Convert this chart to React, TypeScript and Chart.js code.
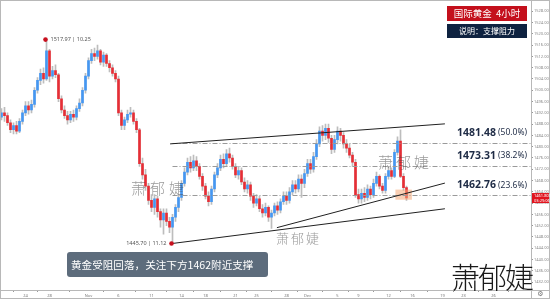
import React, { useEffect, useRef } from "react";
import { Chart, registerables } from "chart.js";

Chart.register(...registerables);

// ---------- DATA ----------
const SLOTS = 177; // candle slots on the time axis (incl. empty future area)

const opens = [
  1490.5, 1492, 1491, 1488.5, 1486, 1487.5, 1485.5, 1489, 1492, 1494.5,
  1493, 1495, 1500, 1503.5, 1506, 1504, 1514, 1505, 1507, 1505.5,
  1497, 1493, 1491, 1489.5, 1491.5, 1490.5, 1493.5, 1495.5, 1500, 1505,
  1510.5, 1513, 1512, 1514, 1510, 1512.5, 1509.5, 1508, 1506, 1504,
  1492, 1487.5, 1489.5, 1491.5, 1492, 1489, 1486, 1474, 1470, 1466,
  1461, 1458.5, 1461.5, 1457, 1454, 1456.5, 1453.5, 1451.5, 1455, 1458.5,
  1462, 1467, 1471, 1474.5, 1472.5, 1475, 1473, 1469.5, 1466, 1462.5,
  1460.5, 1465, 1470, 1472.5, 1475.5, 1474, 1477.5, 1476, 1473, 1470,
  1471.5, 1467.5, 1465, 1466.5, 1462.5, 1460, 1461.5, 1458, 1456.5, 1458.5,
  1455, 1456.5, 1459, 1457.5, 1460.5, 1462.5, 1461, 1464, 1466.5, 1465,
  1468.5, 1467, 1470.5, 1474, 1472, 1476.5, 1481, 1485.5, 1484, 1486.5,
  1483, 1479, 1482.5, 1485.5, 1484, 1481, 1479.5, 1477, 1474.5, 1463,
  1461.5, 1463.5, 1462, 1465, 1463, 1467, 1469.5, 1466, 1464.5, 1469.5,
  1471.5, 1469.5, 1478, 1482, 1469.5, 1465.5,
];
const closes = [
  1492, 1491, 1488.5, 1486, 1487.5, 1485.5, 1489, 1492, 1494.5, 1493,
  1495, 1500, 1503.5, 1506, 1504, 1514, 1505, 1507, 1505.5, 1497,
  1493, 1491, 1489.5, 1491.5, 1490.5, 1493.5, 1495.5, 1500, 1505, 1510.5,
  1513, 1512, 1514, 1510, 1512.5, 1509.5, 1508, 1506, 1504, 1492,
  1487.5, 1489.5, 1491.5, 1492, 1489, 1486, 1474, 1470, 1466, 1461,
  1458.5, 1461.5, 1457, 1454, 1456.5, 1453.5, 1451.5, 1455, 1458.5, 1462,
  1467, 1471, 1474.5, 1472.5, 1475, 1473, 1469.5, 1466, 1462.5, 1460.5,
  1465, 1470, 1472.5, 1475.5, 1474, 1477.5, 1476, 1473, 1470, 1471.5,
  1467.5, 1465, 1466.5, 1462.5, 1460, 1461.5, 1458, 1456.5, 1458.5, 1455,
  1456.5, 1459, 1457.5, 1460.5, 1462.5, 1461, 1464, 1466.5, 1465, 1468.5,
  1467, 1470.5, 1474, 1472, 1476.5, 1481, 1485.5, 1484, 1486.5, 1483,
  1479, 1482.5, 1485.5, 1484, 1481, 1479.5, 1477, 1474.5, 1463, 1461.5,
  1463.5, 1462, 1465, 1463, 1467, 1469.5, 1466, 1464.5, 1469.5, 1471.5,
  1469.5, 1478, 1482, 1469.5, 1465.5, 1461.8,
];
const highs = [
  1493.5, 1494, 1492, 1489.5, 1488.5, 1489, 1490, 1493, 1496, 1496,
  1496.5, 1501, 1504.5, 1507.5, 1508, 1517.97, 1514.5, 1508.5, 1509, 1506,
  1498, 1494.5, 1492.5, 1492.5, 1493, 1494.5, 1497, 1501, 1506, 1511.5,
  1514.5, 1515, 1516, 1514.5, 1513.5, 1513, 1510.5, 1509, 1507, 1505,
  1493, 1490.5, 1493, 1494, 1493, 1490, 1486.5, 1476, 1472, 1467,
  1463, 1463, 1462.5, 1458, 1458, 1458, 1455, 1456, 1459.5, 1463,
  1468, 1472.5, 1476, 1476.5, 1477, 1476.5, 1474, 1470.5, 1467, 1464,
  1466, 1471, 1474, 1477, 1477.5, 1479, 1479.5, 1477, 1474, 1473,
  1472.5, 1469, 1468, 1467.5, 1463.5, 1463, 1462.5, 1459.5, 1460, 1459,
  1457.5, 1460, 1460.5, 1461.5, 1464, 1464, 1465.5, 1468, 1468, 1470,
  1470, 1472, 1475.5, 1475.5, 1478, 1482.5, 1487, 1487.5, 1488, 1488,
  1484, 1484, 1487, 1486.5, 1485, 1482.5, 1481, 1478, 1475.5, 1465,
  1465, 1465.5, 1466.5, 1466, 1468.5, 1471, 1470, 1467, 1470.5, 1473,
  1472.5, 1479, 1483.5, 1486, 1470.5, 1466,
];
const lows = [
  1489.5, 1489, 1487.5, 1485, 1484.5, 1484.5, 1485, 1488, 1491, 1491.5,
  1492, 1494, 1499, 1502, 1502.5, 1503.5, 1503, 1504, 1504.5, 1496,
  1492, 1490, 1488, 1488.5, 1489, 1489.5, 1492.5, 1494.5, 1499, 1504,
  1509.5, 1510.5, 1511, 1509, 1508.5, 1508.5, 1506.5, 1505, 1503, 1491,
  1486, 1486, 1488.5, 1490.5, 1488, 1485, 1473, 1468.5, 1464.5, 1459.5,
  1457, 1456, 1455, 1451.5, 1449, 1452, 1449.5, 1445.7, 1453.5, 1457,
  1461, 1466, 1470, 1471, 1471.5, 1471.5, 1468.5, 1464.5, 1461.5, 1459,
  1459.5, 1464, 1469, 1471.5, 1472.5, 1473, 1474.5, 1472, 1469, 1468.5,
  1466.5, 1464, 1463.5, 1461, 1458.5, 1459, 1457, 1455, 1455.5, 1453.5,
  1451, 1455.5, 1456, 1456.5, 1459.5, 1459.5, 1460, 1463, 1463.5, 1464,
  1462, 1465.5, 1469.5, 1470.5, 1471, 1475.5, 1480, 1482, 1482.5, 1481.5,
  1477.5, 1478, 1481, 1482, 1479.5, 1478, 1476, 1473, 1462, 1460,
  1460, 1460.5, 1461, 1461.5, 1462, 1466, 1465, 1463.5, 1463.5, 1468.5,
  1468.5, 1469, 1477, 1469, 1464.5, 1461,
];

const xTickIndex = [8, 16, 29, 39, 50, 60, 68, 78, 85, 95, 102, 112, 119, 129, 137, 147, 154, 164];
const xTickLabels = ["24", "28", "Nov", "6", "11", "14", "18", "21", "25", "28", "Dec", "5", "9", "12", "16", "19", "23", "26"];
const yTicks = [1432, 1436, 1440, 1444, 1448, 1452, 1456, 1460, 1464, 1468, 1472, 1476, 1480, 1484, 1488, 1492, 1496, 1500, 1504, 1508, 1512, 1516, 1520, 1524, 1528];

const fibLevels = [1481.48, 1473.31, 1462.76];
const fibPercents = ["(50.0%)", "(38.2%)", "(23.6%)"];
const fibStartIndex = 57;

const highPoint = [15, 1517.97];
const highText = "1517.97 | 10.25";
const lowPoint = [57, 1445.7];
const lowText = "1445.70 | 11.12";

// trend lines: [[slotIndex, price], [slotIndex, price]]
const upperLine = [[56.2, 1481.0], [147.8, 1488.1]];
const lowerLine = [[91.8, 1451.3], [147.8, 1467.1]];
const bottomLine = [[57, 1445.7], [147.8, 1458.0]];
const highlightBox = [131.3, 136.8, 1461.2, 1464.8];

const titleText = "国际黄金  4小时";
const subtitleText = "说明：支撑阻力";
const bannerText = "黄金受阻回落，关注下方1462附近支撑";
const watermark = "萧郁婕";
const priceTagTime = "03:29:06";

// ---------- COMPONENT ----------
const UP = "#4597f2";
const DOWN = "#e62e36";
const CJK = '"Noto Sans CJK SC", "Noto Sans", sans-serif';

export default function App() {
  const ref = useRef<HTMLCanvasElement | null>(null);

  useEffect(() => {
    document.body.style.margin = "0";
    const canvas = ref.current;
    if (!canvas) return;

    const slotLabels = Array.from({ length: SLOTS }, (_, i) => String(i));
    const wickData = lows.map((l, i) => [l, highs[i]]);
    const bodyData = opens.map((o, i) => [o, closes[i]]);
    const bodyColors = opens.map((o, i) => (closes[i] >= o ? UP : DOWN));

    const overlay = {
      id: "overlay",
      afterDatasetsDraw(chart: any) {
        const { ctx, chartArea: a } = chart;
        const xs = chart.scales.x;
        const ys = chart.scales.y;
        const px = (v: number) => xs.getPixelForValue(v);
        const py = (v: number) => ys.getPixelForValue(v);
        ctx.save();
        ctx.beginPath();
        ctx.rect(a.left, a.top, a.right - a.left, a.bottom - a.top);
        ctx.clip();

        // highlight box
        ctx.fillStyle = "rgba(244,168,118,0.55)";
        const bx0 = px(highlightBox[0]);
        const bx1 = px(highlightBox[1]);
        const by0 = py(highlightBox[3]);
        const by1 = py(highlightBox[2]);
        ctx.fillRect(bx0, by0, bx1 - bx0, by1 - by0);

        // fib lines
        ctx.strokeStyle = "#9a9a9a";
        ctx.lineWidth = 1;
        ctx.setLineDash([5, 2, 1, 2]);
        fibLevels.forEach((v) => {
          const yy = Math.round(py(v)) + 0.5;
          ctx.beginPath();
          ctx.moveTo(px(fibStartIndex), yy);
          ctx.lineTo(a.right, yy);
          ctx.stroke();
        });
        ctx.setLineDash([]);

        // trend lines
        ctx.strokeStyle = "#202020";
        ctx.lineWidth = 1;
        [upperLine, lowerLine, bottomLine].forEach((ln) => {
          ctx.beginPath();
          ctx.moveTo(px(ln[0][0]), py(ln[0][1]));
          ctx.lineTo(px(ln[1][0]), py(ln[1][1]));
          ctx.stroke();
        });

        // extreme markers
        ctx.fillStyle = "#c8101e";
        [highPoint, lowPoint].forEach((p) => {
          ctx.beginPath();
          ctx.arc(px(p[0]) - 1, py(p[1]), 2.3, 0, Math.PI * 2);
          ctx.fill();
        });
        ctx.fillStyle = "#555";
        ctx.font = '5.5px "Noto Sans", sans-serif';
        ctx.textBaseline = "middle";
        ctx.textAlign = "left";
        ctx.fillText(highText, px(highPoint[0]) + 4, py(highPoint[1]));
        ctx.textAlign = "right";
        ctx.fillText(lowText, px(lowPoint[0]) - 6, py(lowPoint[1]));
        ctx.restore();
      },
      afterDraw(chart: any) {
        const { ctx, chartArea: a } = chart;
        const ys = chart.scales.y;
        const py = (v: number) => ys.getPixelForValue(v);
        const W = chart.width;
        const H = chart.height;
        ctx.save();

        // frame lines
        ctx.strokeStyle = "#b8b8b8";
        ctx.lineWidth = 1;
        ctx.strokeRect(0.5, 0.5, W - 1, H - 1);
        ctx.beginPath();
        ctx.moveTo(Math.round(a.right) + 0.5, 0);
        ctx.lineTo(Math.round(a.right) + 0.5, H);
        ctx.moveTo(0, Math.round(a.bottom) + 0.5);
        ctx.lineTo(W, Math.round(a.bottom) + 0.5);
        ctx.stroke();

        // fib labels
        fibLevels.forEach((v, k) => {
          const yy = py(v) - 10;
          ctx.fillStyle = "#1e2b45";
          ctx.textBaseline = "middle";
          ctx.textAlign = "left";
          ctx.font = 'bold 10.5px "Open Sans", "Noto Sans", sans-serif';
          ctx.fillText(v.toFixed(2), 457, yy);
          ctx.font = '8.5px "Noto Sans", sans-serif';
          ctx.fillText(fibPercents[k], 498, yy + 0.5);
        });

        // watermarks (light)
        ctx.textAlign = "left";
        ctx.textBaseline = "middle";
        const drawWM = (x0: number, y0: number, size: number, gap: number, weight: number) => {
          ctx.font = `${weight} ${size}px ${CJK}`;
          Array.from(watermark).forEach((ch, k) => ctx.fillText(ch, x0 + k * gap, y0));
        };
        ctx.fillStyle = "rgba(70,70,70,0.55)";
        drawWM(131, 188, 15, 19, 300);
        drawWM(378, 162, 15, 18, 300);
        drawWM(276, 238, 13, 15, 300);

        // big watermark
        ctx.fillStyle = "#1a1a1a";
        drawWM(451, 278, 29, 27, 200);

        // title boxes
        ctx.fillStyle = "#c4101c";
        ctx.fillRect(447, 6, 80, 15);
        ctx.fillStyle = "#0e2240";
        ctx.fillRect(447, 24, 80, 14);
        ctx.fillStyle = "#ffffff";
        ctx.textAlign = "center";
        ctx.font = `9.5px ${CJK}`;
        ctx.fillText(titleText, 487, 13.5);
        ctx.font = `8px ${CJK}`;
        ctx.fillText(subtitleText, 487, 31);

        // banner
        ctx.fillStyle = "#5d6c7c";
        const bx = 67, by = 252, bw = 201, bh = 25, r = 3;
        ctx.beginPath();
        ctx.moveTo(bx + r, by);
        ctx.lineTo(bx + bw - r, by);
        ctx.quadraticCurveTo(bx + bw, by, bx + bw, by + r);
        ctx.lineTo(bx + bw, by + bh - r);
        ctx.quadraticCurveTo(bx + bw, by + bh, bx + bw - r, by + bh);
        ctx.lineTo(bx + r, by + bh);
        ctx.quadraticCurveTo(bx, by + bh, bx, by + bh - r);
        ctx.lineTo(bx, by + r);
        ctx.quadraticCurveTo(bx, by, bx + r, by);
        ctx.fill();
        ctx.fillStyle = "#ffffff";
        ctx.textAlign = "left";
        ctx.font = `10.6px ${CJK}`;
        ctx.fillText(bannerText, 71, 265);

        // current price tag on axis
        const last = closes[closes.length - 1];
        const ty = py(last);
        ctx.fillStyle = "#e0141e";
        ctx.fillRect(Math.round(a.right) + 1, ty - 5, W - Math.round(a.right) - 2, 10);
        ctx.fillStyle = "#ffffff";
        ctx.font = '4px "Noto Sans", sans-serif';
        ctx.fillText(last.toFixed(3), Math.round(a.right) + 3, ty - 2);
        ctx.fillText(priceTagTime, Math.round(a.right) + 3, ty + 2.5);

        // settings glyph
        ctx.fillStyle = "#777";
        ctx.textAlign = "center";
        ctx.font = '7px "DejaVu Sans", sans-serif';
        ctx.fillText("⚙", (a.right + W) / 2, 294.5);
        ctx.restore();
      },
    };

    const chart = new Chart(canvas, {
      type: "bar",
      data: {
        labels: slotLabels,
        datasets: [
          {
            data: wickData as any,
            backgroundColor: "#bdbdbd",
            barThickness: 1,
            grouped: false,
            order: 2,
          } as any,
          {
            data: bodyData as any,
            backgroundColor: bodyColors,
            barThickness: 2,
            minBarLength: 1,
            grouped: false,
            order: 1,
          } as any,
        ],
      },
      options: {
        animation: false,
        responsive: false,
        devicePixelRatio: 1,
        layout: { padding: 0 },
        plugins: { legend: { display: false }, tooltip: { enabled: false } },
        scales: {
          x: {
            type: "category",
            offset: true,
            grid: { display: true, drawOnChartArea: false, tickLength: 2, color: "#999" },
            border: { display: false },
            ticks: {
              autoSkip: false,
              maxRotation: 0,
              padding: 1,
              color: "#777",
              font: { size: 4, family: "Noto Sans" },
              callback: (v: any) => {
                const k = xTickIndex.indexOf(Number(v));
                return k >= 0 ? xTickLabels[k] : "";
              },
            },
            afterBuildTicks: (s: any) => {
              s.ticks = xTickIndex.map((v) => ({ value: v }));
            },
            afterFit: (s: any) => {
              s.height = 9;
            },
          } as any,
          y: {
            position: "right",
            min: 1429.2,
            max: 1530.8,
            grid: { display: true, drawOnChartArea: false, tickLength: 2, color: "#999" },
            border: { display: false },
            ticks: {
              padding: 1,
              color: "#888",
              font: { size: 4, family: "Noto Sans" },
              callback: (v: any) => Number(v).toFixed(3),
            },
            afterBuildTicks: (s: any) => {
              s.ticks = yTicks.map((v) => ({ value: v }));
            },
            afterFit: (s: any) => {
              s.width = 19;
            },
          } as any,
        },
      },
      plugins: [overlay],
    });

    return () => chart.destroy();
  }, []);

  return (
    <div style={{ position: "absolute", left: 0, top: 0, width: 550, height: 299, background: "#fff" }}>
      <canvas ref={ref} width={550} height={299} style={{ display: "block", width: 550, height: 299 }} />
    </div>
  );
}
